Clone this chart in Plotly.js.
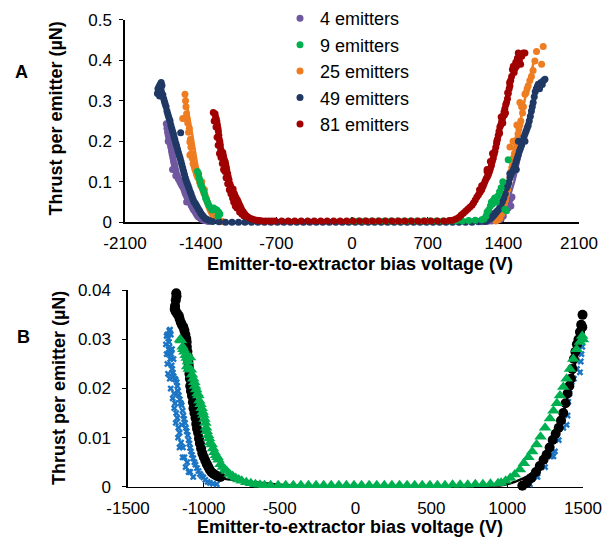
<!DOCTYPE html>
<html><head><meta charset="utf-8">
<script src="https://cdn.plot.ly/plotly-3.0.1.min.js"></script>
<style>html,body{margin:0;padding:0;background:#fff}#c{width:613px;height:544px}</style>
</head><body><div id="c"></div>
<script>
// ---------- Panel A data (voltage V, thrust per emitter µN) ----------
const xTicksA = [-2100,-1400,-700,0,700,1400,2100];
const xTickTextA = ['-2100','-1400','-700','0','700','1400','2100'];
const yTicksA = [0,0.1,0.2,0.3,0.4,0.5];
const yTickTextA = ['0','0.1','0.2','0.3','0.4','0.5'];
const xTicksB = [-1500,-1000,-500,0,500,1000,1500];
const xTickTextB = ['-1500','-1000','-500','0','500','1000','1500'];
const yTicksB = [0,0.01,0.02,0.03,0.04];
const yTickTextB = ['0','0.01','0.02','0.03','0.04'];

const seriesNames = ['4 emitters','9 emitters','25 emitters','49 emitters','81 emitters'];

const v4 = [-1718,-1712,-1706,-1700,-1694,-1688,-1682,-1676,-1670,-1664,-1658,-1652,-1646,-1640,-1634,-1628,-1622,-1615,-1608,-1600,-1592,-1584,-1576,-1568,-1560,-1552,-1544,-1536,-1528,-1520,-1512,-1504,-1496,-1488,-1480,-1472,-1464,-1456,-1448,-1440,-1430,-1420,-1408,-1395,-1380,-1365,-1345,-1325,
  1200,1250,1290,1320,1340,1360,1380,1400,1420,1430,1440,1450,1460,1470,1480,1445,1470,
  -1700,-1660,-1630,-1580,-1530];
const t4 = [0.243,0.232,0.222,0.215,0.208,0.2,0.193,0.185,0.176,0.168,0.16,0.152,0.145,0.14,0.132,0.125,0.117,0.115,0.108,0.105,0.1,0.096,0.092,0.088,0.085,0.078,0.072,0.068,0.063,0.06,0.056,0.052,0.048,0.042,0.038,0.034,0.03,0.028,0.024,0.02,0.016,0.013,0.011,0.008,0.006,0.004,0.003,0.002,
  0.001,0.002,0.003,0.004,0.005,0.006,0.008,0.015,0.03,0.04,0.05,0.06,0.055,0.06,0.062,0.035,0.04,
  0.2,0.13,0.115,0.1,0.05];

const v9 = [-1430,-1420,-1412,-1405,-1395,-1385,-1375,-1365,-1355,-1345,-1335,-1325,-1310,-1295,-1280,-1265,-1250,-1235,-1222,-1240,
  0,60,120,180,240,300,360,420,480,540,600,660,720,780,840,900,960,1020,1080,1140,1200,
  1220,1240,1250,1265,1280,1290,1300,1310,1320,1335,1350,1365,1380,1395,1445,1414,1430];
const t9 = [0.125,0.118,0.108,0.1,0.092,0.085,0.078,0.07,0.06,0.055,0.048,0.042,0.036,0.03,0.035,0.032,0.03,0.025,0.02,0.015,
  0.003,0.003,0.003,0.003,0.003,0.003,0.003,0.003,0.003,0.003,0.003,0.003,0.003,0.003,0.003,0.003,0.003,0.003,0.004,0.005,0.006,
  0.008,0.015,0.025,0.03,0.04,0.05,0.045,0.055,0.06,0.05,0.065,0.075,0.085,0.1,0.154,0.032,0.028];

const v25 = [-1545,-1540,-1536,-1566,-1530,-1525,-1520,-1505,-1512,-1500,-1495,-1490,-1485,-1500,-1478,-1470,-1462,-1455,-1448,-1440,-1432,-1425,-1418,-1410,-1405,-1398,-1390,-1385,-1378,-1370,-1365,-1358,-1350,-1345,-1338,-1330,-1322,-1315,-1308,-1300,-1290,-1280,-1270,-1258,-1245,-1230,-1215,-1200,
  1330,1350,1368,1385,1398,1410,1420,1430,1440,1450,1461,1470,1478,1486,1461,1495,1503,1512,1520,1528,1536,1544,1553,1562,1553,1569,1578,1586,1600,1610,1620,1630,1645,1660,1675,1692,1707,1754,1769,1525,1490];
const t25 = [0.316,0.3,0.285,0.256,0.268,0.255,0.245,0.232,0.222,0.198,0.205,0.185,0.17,0.166,0.158,0.145,0.14,0.132,0.127,0.12,0.115,0.11,0.12,0.1,0.095,0.09,0.1,0.085,0.078,0.072,0.08,0.066,0.06,0.055,0.05,0.044,0.038,0.033,0.028,0.024,0.02,0.016,0.013,0.01,0.007,0.005,0.003,0.002,
  0.003,0.006,0.01,0.02,0.03,0.045,0.055,0.068,0.08,0.095,0.11,0.125,0.135,0.145,0.186,0.16,0.17,0.182,0.195,0.205,0.218,0.23,0.24,0.25,0.296,0.285,0.27,0.285,0.316,0.32,0.33,0.337,0.35,0.36,0.375,0.398,0.422,0.39,0.434,0.24,0.2];

const v49 = [-1800,-1795,-1785,-1775,-1765,-1758,-1770,-1780,-1750,-1742,-1735,-1728,-1720,-1712,-1705,-1698,-1690,-1683,-1676,-1668,-1660,-1652,-1645,-1638,-1630,-1622,-1614,-1606,-1598,-1590,-1582,-1574,-1566,-1558,-1550,-1542,-1534,-1525,-1516,-1507,-1498,-1489,-1480,-1470,-1460,-1450,-1440,-1430,-1420,-1410,-1400,-1390,-1378,-1365,-1350,-1335,-1320,-1585,
  -1290,-1230,-1170,-1110,-1050,-990,-930,-870,-810,-750,-690,-630,-570,-510,-450,-390,-330,-270,-210,-150,-90,-30,30,90,150,210,270,330,390,450,510,570,630,690,750,810,870,930,990,1050,1110,1170,1230,
  1250,1276,1300,1320,1340,1355,1368,1380,1392,1405,1418,1430,1440,1450,1462,1474,1485,1496,1507,1518,1528,1538,1548,1558,1569,1580,1590,1600,1610,1620,1630,1640,1650,1660,1668,1676,1686,1695,1705,1715,1723,1735,1748,1760,1772,1785,1540,1600,1460,1520];
const t49 = [0.318,0.33,0.335,0.34,0.345,0.338,0.322,0.312,0.315,0.305,0.298,0.292,0.285,0.275,0.268,0.262,0.255,0.25,0.24,0.232,0.225,0.218,0.21,0.203,0.195,0.188,0.18,0.172,0.165,0.158,0.15,0.142,0.134,0.126,0.118,0.11,0.103,0.096,0.09,0.083,0.076,0.07,0.063,0.056,0.05,0.046,0.042,0.037,0.032,0.028,0.023,0.019,0.015,0.011,0.008,0.006,0.004,0.221,
  0.002,0.001,0,0,0,0,0,0,0,0,0,0,0,0,0,0,0,0,0,0,0,0,0,0,0,0,0,0,0,0,0,0,0,0,0,0,0,0,0,0,0,0.001,0.002,
  0.004,0.012,0.018,0.022,0.027,0.031,0.036,0.045,0.052,0.06,0.07,0.085,0.09,0.098,0.11,0.118,0.125,0.132,0.141,0.15,0.158,0.166,0.175,0.182,0.19,0.2,0.21,0.218,0.225,0.232,0.239,0.25,0.262,0.275,0.285,0.296,0.31,0.322,0.33,0.335,0.341,0.33,0.345,0.34,0.35,0.353,0.2,0.2,0.12,0.13];

const v81 = [-1283,-1267,-1262,-1255,-1250,-1245,-1240,-1236,-1232,-1228,-1222,-1218,-1214,-1210,-1205,-1200,-1195,-1190,-1185,-1178,-1172,-1168,-1162,-1158,-1150,-1145,-1138,-1130,-1124,-1118,-1110,-1100,-1092,-1085,-1076,-1068,-1060,-1052,-1045,-1035,-1025,-1015,-1005,-992,-978,-962,-945,-925,-905,-880,-855,-830,-800,-770,-740,
  -710,-650,-590,-530,-470,-410,-350,-290,-230,-170,-110,-50,10,70,130,190,250,310,370,430,490,550,610,670,730,790,850,
  900,930,960,990,1010,1030,1050,1070,1090,1110,1125,1140,1155,1170,1185,1200,1212,1222,1232,1242,1252,1262,1272,1280,1290,1298,1307,1315,1322,1330,1338,1345,1353,1360,1368,1376,1384,1392,1399,1406,1414,1422,1430,1438,1446,1454,1461,1468,1476,1484,1492,1500,1508,1515,1522,1530,1538,1548,1560,1570,1584,1600,
  1380,1420,1300,1250,
  -1275,-1258,-1248,-1238,-1226,-1212,-1200,-1188,-1175,-1165,-1150,-1135,-1120,-1105,-1095,-1080,-1065,-1040,-1020,-1000,
  1340,1365,1395,1410,1440,1458,1200,1180,1250,1280];
const t81 = [0.271,0.268,0.26,0.255,0.248,0.24,0.232,0.225,0.215,0.205,0.198,0.19,0.18,0.175,0.168,0.16,0.172,0.165,0.158,0.152,0.148,0.142,0.135,0.128,0.12,0.112,0.105,0.095,0.09,0.085,0.08,0.082,0.072,0.068,0.062,0.058,0.055,0.05,0.045,0.04,0.034,0.028,0.025,0.02,0.016,0.013,0.01,0.008,0.006,0.005,0.004,0.003,0.003,0.003,0.003,
  0.003,0.003,0.003,0.003,0.003,0.003,0.003,0.003,0.003,0.003,0.003,0.003,0.003,0.003,0.003,0.003,0.003,0.003,0.003,0.003,0.003,0.003,0.003,0.003,0.003,0.003,0.003,
  0.004,0.005,0.008,0.012,0.018,0.022,0.027,0.032,0.037,0.042,0.048,0.055,0.062,0.068,0.074,0.08,0.088,0.095,0.102,0.108,0.112,0.118,0.125,0.132,0.14,0.15,0.158,0.168,0.175,0.185,0.195,0.205,0.215,0.225,0.235,0.24,0.248,0.256,0.263,0.272,0.28,0.29,0.296,0.305,0.318,0.33,0.337,0.35,0.36,0.377,0.385,0.37,0.38,0.395,0.385,0.405,0.418,0.4,0.39,0.41,0.418,0.418,
  0.26,0.27,0.17,0.125,
  0.25,0.235,0.21,0.19,0.17,0.16,0.145,0.13,0.125,0.11,0.095,0.08,0.07,0.06,0.05,0.04,0.035,0.025,0.02,0.015,
  0.2,0.22,0.245,0.265,0.32,0.345,0.09,0.08,0.13,0.15];

// fitted curves (null separates the negative and positive branches)
const fit4v = [-1720,-1680,-1640,-1600,-1560,-1520,-1480,-1440,-1400,-1350,-1300,null,1300,1380,1440,1500,1560,1610];
const fit4t = [0.24,0.195,0.15,0.11,0.08,0.055,0.035,0.018,0.008,0.002,0,null,0,0.01,0.05,0.1,0.17,0.24];
const fit25v = [-1540,-1480,-1430,-1380,-1330,-1280,-1230,-1180,null,1340,1380,1430,1480,1530,1580,1630,1690];
const fit25t = [0.31,0.22,0.14,0.08,0.04,0.015,0.004,0,null,0,0.02,0.07,0.14,0.21,0.28,0.34,0.405];
const fit49v = [-1760,-1700,-1640,-1580,-1520,-1460,-1400,-1340,-1280,null,1280,1350,1420,1500,1580,1660,1740];
const fit49t = [0.345,0.27,0.205,0.15,0.1,0.055,0.02,0.005,0,null,0,0.02,0.07,0.14,0.21,0.285,0.35];
const fit81v = [-1270,-1230,-1190,-1150,-1110,-1070,-1030,-990,-940,-880,-800,null,900,1000,1100,1200,1280,1350,1420,1480,1520];
const fit81t = [0.27,0.215,0.165,0.12,0.085,0.058,0.038,0.022,0.011,0.005,0.003,null,0.004,0.018,0.04,0.08,0.13,0.21,0.29,0.37,0.41];

// ---------- Panel B data ----------
const vBlack = [-1182,-1180,-1185,-1190,-1192,-1186,-1175,-1165,-1160,-1152,-1145,-1135,-1128,-1122,-1116,-1113,-1112,-1108,-1105,-1102,-1100,-1098,-1095,-1092,-1090,-1085,-1078,-1072,-1068,-1062,-1055,-1050,-1045,-1038,-1032,-1026,-1018,-1010,-1000,-990,-980,-970,-960,-948,-935,-920,-905,-890,
  1100,1130,1160,1190,1215,1240,1260,1280,1300,1320,1340,1355,1370,1385,1398,1410,1420,1430,1440,1450,1460,1470,1480,1488,1495,1497];
const tBlack = [0.0394,0.0388,0.038,0.0368,0.0362,0.0357,0.0352,0.0348,0.0342,0.0335,0.033,0.0325,0.0318,0.031,0.0302,0.0295,0.0285,0.0275,0.0265,0.0255,0.0248,0.024,0.023,0.022,0.0205,0.0195,0.0185,0.0172,0.016,0.015,0.014,0.0128,0.0118,0.011,0.0098,0.0088,0.0078,0.0068,0.006,0.0053,0.0046,0.004,0.0034,0.0029,0.0026,0.0023,0.0021,0.002,
  0.0002,0.0008,0.0018,0.003,0.0042,0.0055,0.0065,0.008,0.0095,0.0108,0.012,0.0135,0.015,0.017,0.019,0.0205,0.022,0.024,0.026,0.0275,0.029,0.03,0.0315,0.033,0.0325,0.035];
const fitBlackV = [-1180,-1140,-1100,-1060,-1020,-980,-940,-880,-800,-700,-600,-500,-400,-300,-200,800,950,1050,1150,1250,1350,1420,1480,1500];
const fitBlackT = [0.039,0.032,0.025,0.0165,0.0095,0.0055,0.003,0.0018,0.0013,0.001,0.0007,0.0004,0.0002,0.0001,0,0,0.0002,0.001,0.0025,0.006,0.013,0.021,0.03,0.033];

const vBlue = [-1245,-1240,-1234,-1228,-1223,-1230,-1226,-1220,-1215,-1222,-1212,-1208,-1204,-1200,-1192,-1186,-1179,-1175,-1170,-1165,-1158,-1152,-1146,-1146,-1140,-1135,-1130,-1124,-1118,-1113,-1106,-1100,-1095,-1091,-1085,-1078,-1070,-1062,-1055,-1045,-1035,-1025,-1015,-1003,-990,-975,-960,-940,-915,
  -1235,-1225,-1218,-1205,-1195,-1185,-1170,-1160,-1140,-1120,-1100,
  -1250,-1245,-1240,-1236,-1232,-1218,-1210,-1200,-1196,-1190,-1182,-1175,-1168,-1160,-1150,-1138,-1128,-1110,-1090,-1070,
  1150,1200,1250,1290,1300,1305,1315,1340,1370,1392,1398,1403,1410,1425,1440,1460,1480,1485,1490,1495];
const tBlue = [0.0307,0.031,0.0302,0.0318,0.032,0.0295,0.0285,0.0278,0.027,0.026,0.0247,0.024,0.0232,0.0225,0.022,0.0218,0.0213,0.0205,0.0195,0.0186,0.0178,0.017,0.0166,0.0126,0.0155,0.0145,0.0138,0.013,0.012,0.0113,0.0105,0.0095,0.0088,0.0079,0.0072,0.0065,0.0058,0.005,0.0045,0.0038,0.0032,0.0026,0.0022,0.0019,0.0014,0.001,0.0008,0.0006,0.0005,
  0.027,0.022,0.02,0.018,0.016,0.013,0.01,0.008,0.006,0.004,0.003,
  0.029,0.027,0.025,0.023,0.028,0.031,0.028,0.026,0.019,0.017,0.015,0.014,0.012,0.011,0.009,0.008,0.006,0.005,0.003,0.002,
  0.0005,0.002,0.004,0.0062,0.0068,0.0062,0.0072,0.0095,0.012,0.0126,0.0145,0.0173,0.019,0.0213,0.022,0.024,0.0233,0.0255,0.027,0.0285];

const vGreen = [-1157,-1150,-1140,-1135,-1128,-1120,-1113,-1105,-1110,-1100,-1091,-1085,-1078,-1070,-1063,-1058,-1050,-1042,-1036,-1030,-1022,-1015,-1008,-1003,-996,-990,-985,-981,-972,-965,-958,-948,-940,-930,-920,-910,-904,-890,-875,-860,-849,-830,-810,-790,-770,-750,-720,-690,-660,-630,-600,
  -560,-510,-460,-410,-360,-310,-260,-210,-160,-110,-60,-10,40,90,140,190,240,290,340,390,440,490,540,590,640,690,740,790,840,890,940,
  960,990,1020,1050,1084,1110,1140,1165,1194,1220,1250,1282,1305,1328,1348,1370,1392,1414,1436,1458,1480,1495,1500];
const tGreen = [0.03,0.0298,0.0285,0.028,0.0275,0.0268,0.0262,0.0255,0.0245,0.024,0.0263,0.0238,0.0228,0.022,0.0213,0.0205,0.0198,0.019,0.0186,0.0175,0.0168,0.016,0.0152,0.0146,0.0138,0.013,0.012,0.0113,0.0105,0.0098,0.009,0.0086,0.0078,0.007,0.0064,0.006,0.0055,0.0046,0.004,0.0035,0.0032,0.0026,0.0022,0.0018,0.0015,0.0012,0.0009,0.0007,0.0005,0.0004,0.0003,
  0.0003,0.0003,0.0003,0.0003,0.0003,0.0003,0.0003,0.0003,0.0003,0.0003,0.0003,0.0003,0.0003,0.0003,0.0003,0.0003,0.0003,0.0003,0.0003,0.0003,0.0003,0.0003,0.0003,0.0003,0.0004,0.0004,0.0004,0.0005,0.0005,0.0006,0.0007,
  0.0008,0.0012,0.0018,0.0025,0.0035,0.0048,0.006,0.0072,0.0086,0.0102,0.012,0.0139,0.0155,0.017,0.0186,0.0203,0.022,0.024,0.026,0.028,0.0295,0.0307,0.03];

// ---------- build ----------
const W = 613, H = 544;
const FONT = 'Liberation Sans, Arial, sans-serif';
const colA = {'4 emitters':'#7058a0','9 emitters':'#00b050','25 emitters':'#ee7d22','49 emitters':'#1f3864','81 emitters':'#a00000'};
const dataA = {
  '4 emitters':[v4,t4,fit4v,fit4t], '9 emitters':[v9,t9,null,null], '25 emitters':[v25,t25,fit25v,fit25t],
  '49 emitters':[v49,t49,fit49v,fit49t], '81 emitters':[v81,t81,fit81v,fit81t]
};
const drawOrder = ['4 emitters','25 emitters','49 emitters','9 emitters','81 emitters'];
const traces = [];
drawOrder.forEach(n => {
  const d = dataA[n], c = colA[n];
  traces.push({type:'scatter', mode:'markers', name:n, x:d[0], y:d[1], xaxis:'x', yaxis:'y',
    marker:{color:c, size:7, line:{width:0}}, cliponaxis:false, legendrank:seriesNames.indexOf(n)+1});
  if (d[2]) traces.push({type:'scatter', mode:'lines', x:d[2], y:d[3], xaxis:'x', yaxis:'y', showlegend:false,
    line:{color:c, width:2.5, shape:'spline', smoothing:0.6}, cliponaxis:false, hoverinfo:'skip'});
});
traces.push({type:'scatter', mode:'markers', x:vBlue, y:tBlue, xaxis:'x2', yaxis:'y2', showlegend:false,
  marker:{color:'#1b75c4', size:6, symbol:'x', line:{width:0}}, cliponaxis:false});
traces.push({type:'scatter', mode:'markers', x:vBlack, y:tBlack, xaxis:'x2', yaxis:'y2', showlegend:false,
  marker:{color:'#000', size:10, line:{width:0}}, cliponaxis:false});
traces.push({type:'scatter', mode:'lines', x:fitBlackV, y:fitBlackT, xaxis:'x2', yaxis:'y2', showlegend:false,
  line:{color:'#000', width:2.5, shape:'spline', smoothing:0.6}, cliponaxis:false});
traces.push({type:'scatter', mode:'markers', x:vGreen, y:tGreen, xaxis:'x2', yaxis:'y2', showlegend:false,
  marker:{color:'#00b050', size:11, symbol:'triangle-up', line:{width:0}}, cliponaxis:false});

const axisCommon = {showline:true, linecolor:'#000', linewidth:1.6, showgrid:false, zeroline:false,
  tickcolor:'#000', tickwidth:1.3, layer:'below traces', fixedrange:true,
  tickfont:{family:FONT, size:17, color:'#000'}, tickmode:'array'};
const ann = (t, x, y, ang, size) => ({text:'<b>'+t+'</b>', x:x/W, y:1-y/H, xref:'paper', yref:'paper',
  showarrow:false, textangle:ang||0, xanchor:'center', yanchor:'middle', font:{family:FONT, size:size||18, color:'#000'}});

const layout = {
  width:W, height:H, margin:{l:0,r:0,t:0,b:0}, paper_bgcolor:'#fff', plot_bgcolor:'rgba(0,0,0,0)',
  showlegend:true,
  legend:{x:280/W, y:1+7/H, xanchor:'left', yanchor:'top', bgcolor:'rgba(0,0,0,0)',
    font:{family:FONT, size:18, color:'#000'}, tracegroupgap:0},
  xaxis:Object.assign({}, axisCommon, {domain:[125/W,579/W], range:[-2100,2100], anchor:'y',
    tickvals:xTicksA, ticktext:xTickTextA, ticks:'inside', ticklen:5, ticklabelstandoff:5}),
  yaxis:Object.assign({}, axisCommon, {domain:[1-218/H,1-13/H], range:[0,0.5], anchor:'x',
    tickvals:yTicksA, ticktext:yTickTextA, ticks:'outside', ticklen:4, ticklabelstandoff:4}),
  xaxis2:Object.assign({}, axisCommon, {domain:[128/W,583/W], range:[-1500,1500], anchor:'y2',
    tickvals:xTicksB, ticktext:xTickTextB, ticks:'inside', ticklen:5, ticklabelstandoff:5}),
  yaxis2:Object.assign({}, axisCommon, {domain:[1-486/H,1-287/H], range:[0,0.04], anchor:'x2',
    tickvals:yTicksB, ticktext:yTickTextB, ticks:'outside', ticklen:4, ticklabelstandoff:8}),
  annotations:[
    ann('A', 22, 66, 0, 18), ann('B', 24, 334, 0, 18),
    ann('Emitter-to-extractor bias voltage (V)', 360, 260),
    ann('Emitter-to-extractor bias voltage (V)', 350, 527),
    ann('Thrust per emitter (µN)', 56, 113, -90),
    ann('Thrust per emitter (µN)', 59, 386, -90)
  ]
};
Plotly.newPlot('c', traces, layout, {displayModeBar:false, staticPlot:true});
</script></body></html>
